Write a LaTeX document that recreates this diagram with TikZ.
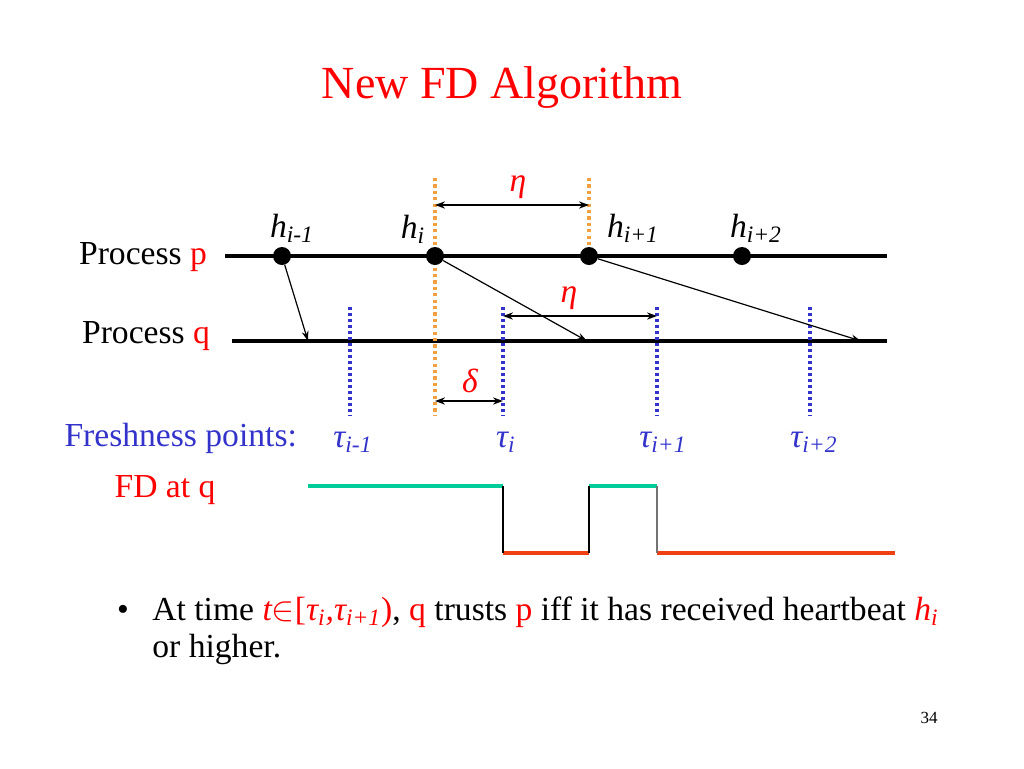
\documentclass[tikz,border=0pt]{standalone}
\usepackage{fontspec}
\setmainfont{Liberation Serif}
\usetikzlibrary{positioning,arrows.meta}
\definecolor{slidered}{RGB}{255,0,0}
\definecolor{freshblue}{RGB}{51,51,204}
\definecolor{etaorange}{RGB}{242,160,64}
\definecolor{trustgreen}{RGB}{0,204,153}
\definecolor{suspectred}{RGB}{238,64,16}
\newcommand{\sub}[1]{\textsubscript{\itshape #1}}
\begin{document}
\begin{tikzpicture}[x=0.5pt,y=-0.5pt,line cap=butt,font=\fontsize{16.8}{20}\selectfont,
  dot/.style={circle,fill=black,inner sep=0pt,minimum size=9pt},
  hbeat/.style={font=\fontsize{16.8}{20}\selectfont\itshape},
  orangeline/.style={etaorange,line width=1.8pt,dash pattern=on 1.6pt off 1.6pt},
  blueline/.style={freshblue,line width=1.8pt,dash pattern=on 1.5pt off 1.5pt},
  span/.style={{Stealth[length=5pt,width=3.6pt]}-{Stealth[length=5pt,width=3.6pt]},line width=0.7pt},
  msg/.style={-{Stealth[length=5pt,width=3.4pt]},line width=0.6pt}]
  \useasboundingbox (0,0) rectangle (1024,768);
  \node[slidered,font=\fontsize{23}{27}\selectfont] (title) at (502,87) {New FD Algorithm};
  % the two processes
  \node[anchor=east] (plabel) at (214,257) {Process \textcolor{slidered}{p}};
  \node[anchor=east] (qlabel) at (217,336) {Process \textcolor{slidered}{q}};
  \coordinate (p0) at (225,256);
  \coordinate (p1) at (887,256);
  \coordinate (q0) at (232,341);
  \coordinate (q1) at (887,341);
  \draw[line width=1.8pt] (p0) -- (p1);
  \draw[line width=1.8pt] (q0) -- (q1);
  % freshness points and sending times
  \draw[orangeline] (435,178) -- (435,416);
  \draw[orangeline] (589,178) -- (589,250);
  \foreach \x in {350,503,657,810}
    \draw[blueline] (\x,307) -- (\x,416);
  % heartbeats
  \node[dot] (h1) at (282,256) {};
  \node[dot] (h2) at (435,256) {};
  \node[dot] (h3) at (589,256) {};
  \node[dot] (h4) at (742,256) {};
  \node[hbeat] (l1) at (292,228) {h\sub{i-1}};
  \node[hbeat] (l2) at (413,229) {h\sub{i}};
  \node[hbeat] (l3) at (633,228) {h\sub{i+1}};
  \node[hbeat] (l4) at (756,228) {h\sub{i+2}};
  \coordinate (r1) at (308,341);
  \coordinate (r2) at (587,341);
  \coordinate (r3) at (861,341);
  \draw[msg] (h1) -- (r1);
  \draw[msg] (h2) -- (r2);
  \draw[msg] (h3) -- (r3);
  % intervals
  \coordinate (e1) at (435,205);
  \coordinate (e2) at (589,205);
  \draw[span] (e1) -- (e2);
  \node[slidered,hbeat] (eta1) at (518,187) {η};
  \coordinate (e3) at (503,316);
  \coordinate (e4) at (657,316);
  \draw[span] (e3) -- (e4);
  \node[slidered,hbeat] (eta2) at (569,298) {η};
  \coordinate (d1) at (435,401);
  \coordinate (d2) at (503,401);
  \draw[span] (d1) -- (d2);
  \node[slidered,hbeat] (delta) at (470,381) {δ};
  % freshness points
  \node[freshblue,anchor=east] (fresh) at (304,438) {Freshness points:};
  \node[freshblue,hbeat] (t1) at (353,442) {τ\sub{i-1}};
  \node[freshblue,hbeat] (t2) at (506,442) {τ\sub{i}};
  \node[freshblue,hbeat] (t3) at (663,442) {τ\sub{i+1}};
  \node[freshblue,hbeat] (t4) at (814,442) {τ\sub{i+2}};
  % output of the detector
  \node[slidered] (fd) at (165,490) {FD at q};
  \draw[trustgreen,line width=1.6pt] (308,486) -- (503,486);
  \draw[trustgreen,line width=1.6pt] (589,486) -- (657,486);
  \draw[suspectred,line width=1.6pt] (503,553) -- (589,553);
  \draw[suspectred,line width=1.6pt] (657,553) -- (895,553);
  \draw[line width=0.6pt] (503,486) -- (503,553);
  \draw[line width=0.6pt] (589,486) -- (589,553);
  \draw[black!55,line width=0.6pt] (657,486) -- (657,553);
  % bullet
  \node[anchor=base west] (dotb) at (110,620) {•};
  \node[anchor=base west,inner sep=0pt] (line1) at (152,620) {At time \textcolor{slidered}{\itshape t$\in$\upshape[\itshape τ\sub{i},τ\sub{i+1}\upshape)}, \textcolor{slidered}{q} trusts \textcolor{slidered}{p} iff it has received heartbeat \textcolor{slidered}{\itshape h\sub{i}}};
  \node[anchor=base west,inner sep=0pt] (line2) at (152,657) {or higher.};
  \node[font=\fontsize{8.5}{10}\selectfont] (page) at (929,718) {34};
\end{tikzpicture}
\end{document}
